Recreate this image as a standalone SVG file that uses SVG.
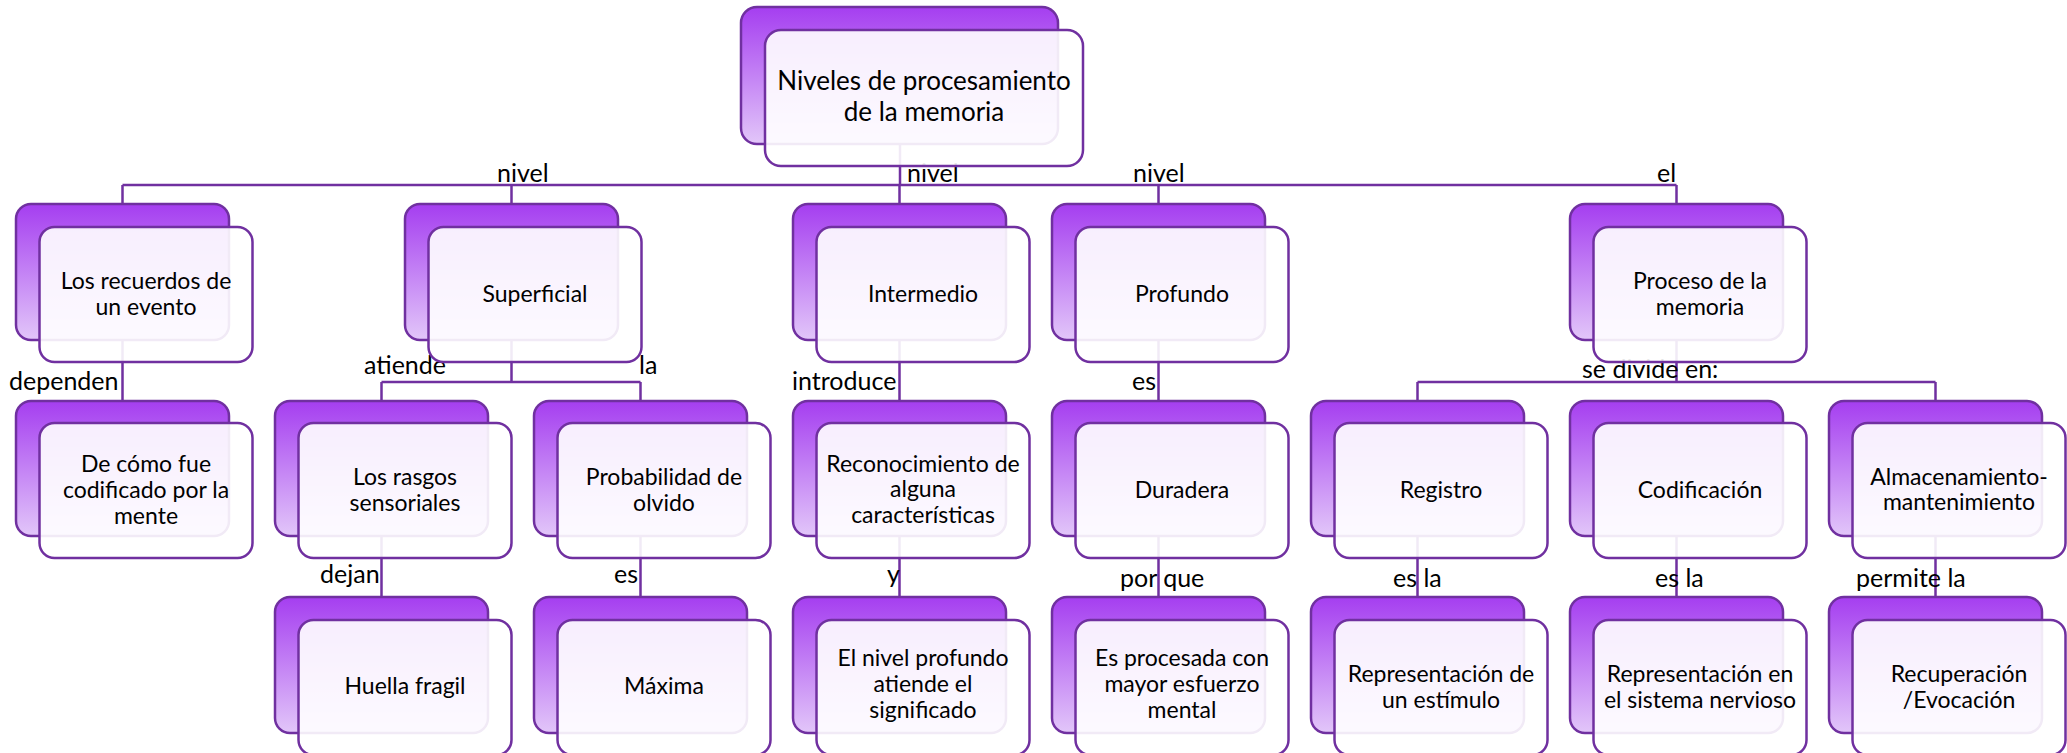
<svg xmlns="http://www.w3.org/2000/svg" width="2067" height="753" viewBox="0 0 2067 753">
<defs>
<linearGradient id="g" x1="0" y1="0" x2="0" y2="1">
<stop offset="0" stop-color="#a53ef0"/>
<stop offset="1" stop-color="#e2c6f9"/>
</linearGradient>
<style>
.b{fill:url(#g);stroke:#7030a0;stroke-width:2.5}
.f{fill:#ffffff;fill-opacity:0.9;stroke:#7030a0;stroke-width:2.5}
.c{fill:none;stroke:#7030a0;stroke-width:2.5}
.t{font-family:Lato,"Liberation Sans",sans-serif;font-size:23px;fill:#000;text-anchor:middle}
.tt{font-family:Lato,"Liberation Sans",sans-serif;font-size:26px;fill:#000;text-anchor:middle}
.l{font-family:Lato,"Liberation Sans",sans-serif;font-size:25px;fill:#000}
</style>
</defs>
<rect width="2067" height="753" fill="#ffffff"/>
<g id="connectors">
<path class="c" d="M900 144V185M122.5 185H1676.5M122.5 185V204M511.5 185V204M899.5 185V204M1158.5 185V204M1676.5 185V204"/>
<path class="c" d="M122.5 340V401M511.5 340V382M381.5 382H640.5M381.5 382V401M640.5 382V401M899.5 340V401M1158.5 340V401M1676.5 340V382M1417.5 382H1935.5M1417.5 382V401M1935.5 382V401"/>
<path class="c" d="M381.5 536V597M640.5 536V597M899.5 536V597M1158.5 536V597M1417.5 536V597M1676.5 536V597M1935.5 536V597"/>
</g>
<g id="connector-labels">
<text class="l" x="497" y="182">nivel</text>
<text class="l" x="907" y="182">nivel</text>
<text class="l" x="1133" y="182">nivel</text>
<text class="l" x="1657" y="182">el</text>
<text class="l" x="9" y="390">dependen</text>
<text class="l" x="364" y="374">atiende</text>
<text class="l" x="639" y="374">la</text>
<text class="l" x="792" y="390">introduce</text>
<text class="l" x="1132" y="390">es</text>
<text class="l" x="1582" y="378">se divide en:</text>
<text class="l" x="320" y="583">dejan</text>
<text class="l" x="614" y="583">es</text>
<text class="l" x="887" y="583">y</text>
<text class="l" x="1120" y="587">por que</text>
<text class="l" x="1393" y="587">es la</text>
<text class="l" x="1655" y="587">es la</text>
<text class="l" x="1856" y="587">permite la</text>
</g>
<g id="n-top">
<rect class="b" x="741" y="7" width="317" height="137" rx="16"/>
<rect class="f" x="765" y="30" width="318" height="136" rx="16"/>
<text class="tt" x="924" y="90">Niveles de procesamiento</text>
<text class="tt" x="924" y="121">de la memoria</text>
</g>
<g id="n-recuerdos">
<rect class="b" x="16" y="204" width="213" height="136" rx="15"/>
<rect class="f" x="39.5" y="227" width="213" height="135" rx="15"/>
<text class="t" x="146" y="289">Los recuerdos de</text>
<text class="t" x="146" y="315">un evento</text>
</g>
<g id="n-superficial">
<rect class="b" x="405" y="204" width="213" height="136" rx="15"/>
<rect class="f" x="428.5" y="227" width="213" height="135" rx="15"/>
<text class="t" x="535" y="302">Superficial</text>
</g>
<g id="n-intermedio">
<rect class="b" x="793" y="204" width="213" height="136" rx="15"/>
<rect class="f" x="816.5" y="227" width="213" height="135" rx="15"/>
<text class="t" x="923" y="302">Intermedio</text>
</g>
<g id="n-profundo">
<rect class="b" x="1052" y="204" width="213" height="136" rx="15"/>
<rect class="f" x="1075.5" y="227" width="213" height="135" rx="15"/>
<text class="t" x="1182" y="302">Profundo</text>
</g>
<g id="n-proceso">
<rect class="b" x="1570" y="204" width="213" height="136" rx="15"/>
<rect class="f" x="1593.5" y="227" width="213" height="135" rx="15"/>
<text class="t" x="1700" y="289">Proceso de la</text>
<text class="t" x="1700" y="315">memoria</text>
</g>
<g id="n-codificado">
<rect class="b" x="16" y="401" width="213" height="135" rx="15"/>
<rect class="f" x="39.5" y="423" width="213" height="135" rx="15"/>
<text class="t" x="146" y="472">De cómo fue</text>
<text class="t" x="146" y="498">codificado por la</text>
<text class="t" x="146" y="524">mente</text>
</g>
<g id="n-rasgos">
<rect class="b" x="275" y="401" width="213" height="135" rx="15"/>
<rect class="f" x="298.5" y="423" width="213" height="135" rx="15"/>
<text class="t" x="405" y="485">Los rasgos</text>
<text class="t" x="405" y="511">sensoriales</text>
</g>
<g id="n-probabilidad">
<rect class="b" x="534" y="401" width="213" height="135" rx="15"/>
<rect class="f" x="557.5" y="423" width="213" height="135" rx="15"/>
<text class="t" x="664" y="485">Probabilidad de</text>
<text class="t" x="664" y="511">olvido</text>
</g>
<g id="n-reconocimiento">
<rect class="b" x="793" y="401" width="213" height="135" rx="15"/>
<rect class="f" x="816.5" y="423" width="213" height="135" rx="15"/>
<text class="t" x="923" y="472">Reconocimiento de</text>
<text class="t" x="923" y="497">alguna</text>
<text class="t" x="923" y="523">características</text>
</g>
<g id="n-duradera">
<rect class="b" x="1052" y="401" width="213" height="135" rx="15"/>
<rect class="f" x="1075.5" y="423" width="213" height="135" rx="15"/>
<text class="t" x="1182" y="498">Duradera</text>
</g>
<g id="n-registro">
<rect class="b" x="1311" y="401" width="213" height="135" rx="15"/>
<rect class="f" x="1334.5" y="423" width="213" height="135" rx="15"/>
<text class="t" x="1441" y="498">Registro</text>
</g>
<g id="n-codificacion">
<rect class="b" x="1570" y="401" width="213" height="135" rx="15"/>
<rect class="f" x="1593.5" y="423" width="213" height="135" rx="15"/>
<text class="t" x="1700" y="498">Codificación</text>
</g>
<g id="n-almacenamiento">
<rect class="b" x="1829" y="401" width="213" height="135" rx="15"/>
<rect class="f" x="1852.5" y="423" width="213" height="135" rx="15"/>
<text class="t" x="1959" y="485">Almacenamiento-</text>
<text class="t" x="1959" y="510">mantenimiento</text>
</g>
<g id="n-huella">
<rect class="b" x="275" y="597" width="213" height="136" rx="15"/>
<rect class="f" x="298.5" y="620" width="213" height="135" rx="15"/>
<text class="t" x="405" y="694">Huella fragil</text>
</g>
<g id="n-maxima">
<rect class="b" x="534" y="597" width="213" height="136" rx="15"/>
<rect class="f" x="557.5" y="620" width="213" height="135" rx="15"/>
<text class="t" x="664" y="694">Máxima</text>
</g>
<g id="n-significado">
<rect class="b" x="793" y="597" width="213" height="136" rx="15"/>
<rect class="f" x="816.5" y="620" width="213" height="135" rx="15"/>
<text class="t" x="923" y="666">El nivel profundo</text>
<text class="t" x="923" y="692">atiende el</text>
<text class="t" x="923" y="718">significado</text>
</g>
<g id="n-procesada">
<rect class="b" x="1052" y="597" width="213" height="136" rx="15"/>
<rect class="f" x="1075.5" y="620" width="213" height="135" rx="15"/>
<text class="t" x="1182" y="666">Es procesada con</text>
<text class="t" x="1182" y="692">mayor esfuerzo</text>
<text class="t" x="1182" y="718">mental</text>
</g>
<g id="n-estimulo">
<rect class="b" x="1311" y="597" width="213" height="136" rx="15"/>
<rect class="f" x="1334.5" y="620" width="213" height="135" rx="15"/>
<text class="t" x="1441" y="682">Representación de</text>
<text class="t" x="1441" y="708">un estímulo</text>
</g>
<g id="n-sistema">
<rect class="b" x="1570" y="597" width="213" height="136" rx="15"/>
<rect class="f" x="1593.5" y="620" width="213" height="135" rx="15"/>
<text class="t" x="1700" y="682">Representación en</text>
<text class="t" x="1700" y="708">el sistema nervioso</text>
</g>
<g id="n-recuperacion">
<rect class="b" x="1829" y="597" width="213" height="136" rx="15"/>
<rect class="f" x="1852.5" y="620" width="213" height="135" rx="15"/>
<text class="t" x="1959" y="682">Recuperación</text>
<text class="t" x="1959" y="708">/Evocación</text>
</g>
</svg>
